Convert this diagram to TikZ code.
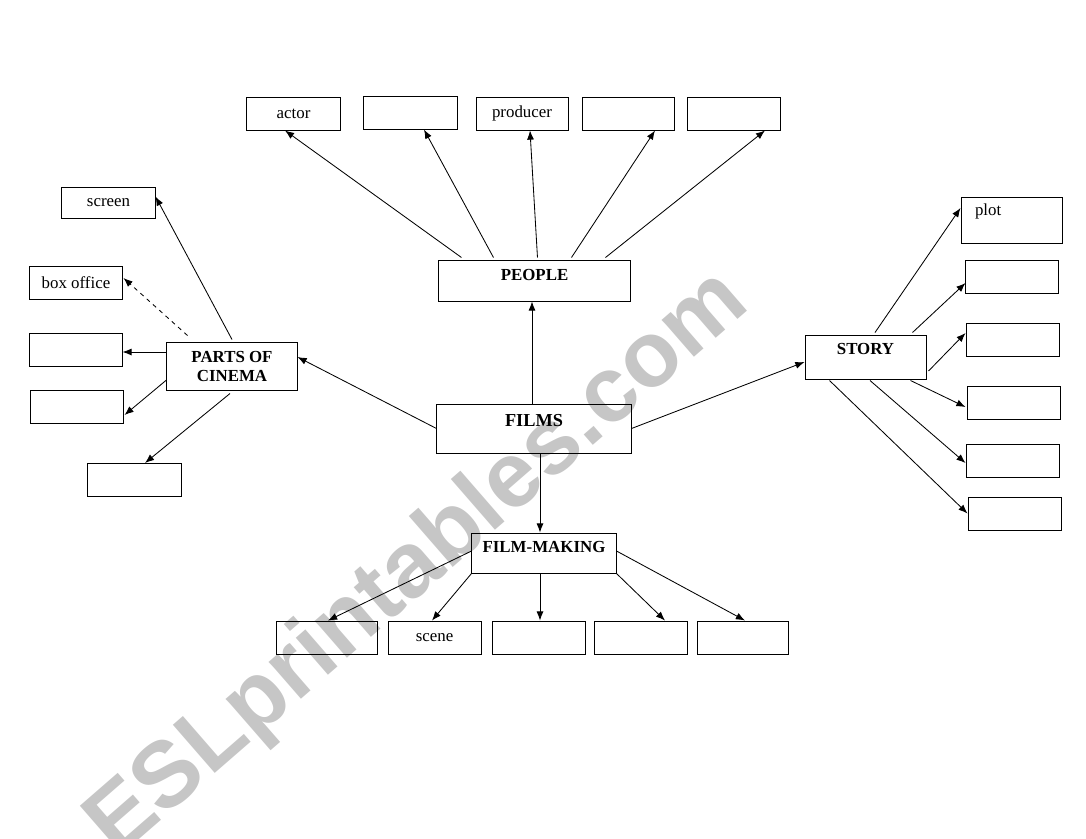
\documentclass[tikz,border=0pt]{standalone}
\usepackage{fontspec}
\setmainfont{Liberation Serif}
\newfontfamily\markfont{Liberation Sans}
\usepackage{tikz}
\usetikzlibrary{arrows.meta,calc}
\usepackage{xcolor}
\definecolor{markgray}{RGB}{198,198,198}

\tikzset{
	cell/.style={draw=black, line width=0.7pt, inner sep=0pt, minimum width=2.325cm, minimum height=0.825cm, font=\fontsize{12}{13.5}\selectfont},
	hub/.style={cell, font=\fontsize{12}{13.5}\selectfont\bfseries, text height=9pt, text depth=#1},
	hub/.default=0pt,
	arr/.style={line width=0.6pt, -{Latex[length=6.5pt,width=5pt]}},
	watermark/.style={text=markgray, font=\markfont\bfseries\fontsize{66}{66}\selectfont, inner sep=0pt}
}

\begin{document}
\begin{tikzpicture}[x=0.025cm, y=-0.025cm]
					\useasboundingbox (0,0) rectangle (1086,838);
					\node[watermark, anchor=base west, rotate=41] (mark) at (117,859) {ESLprintables.com};
					
					\node[hub=12.4pt, minimum width=4.85cm, minimum height=1.225cm, font=\fontsize{13}{15}\selectfont\bfseries] (films) at (534,428.5) {FILMS};
					\node[hub=9.5pt, minimum width=4.775cm, minimum height=1.025cm] (people) at (534.5,280.5) {PEOPLE};
					\node[cell, minimum width=3.25cm, minimum height=1.2cm, align=center, font=\fontsize{12}{13.5}\selectfont\bfseries] (parts) at (232,366) {PARTS OF\\CINEMA};
					\node[hub=12.4pt, minimum width=3.025cm, minimum height=1.1cm] (story) at (865.5,357) {STORY};
					\node[hub=9.5pt, minimum width=3.6cm, minimum height=1.0cm] (making) at (544,553) {FILM-MAKING};
					
					\node[cell] (actor) at (293.5,113.5) {actor};
					\node[cell] (p2) at (410.5,112.5) {};
					\node[cell, minimum width=2.3cm] (producer) at (522,113.5) {producer};
					\node[cell, minimum width=2.3cm] (p4) at (628,113.5) {};
					\node[cell] (p5) at (733.5,113.5) {};
					
					\node[cell, minimum height=0.775cm] (screen) at (108.5,202.5) {screen};
					\node[cell, minimum width=2.3cm] (boxoffice) at (76,283) {box office};
					\node[cell, minimum width=2.3cm] (l3) at (76,350) {};
					\node[cell, minimum width=2.3cm] (l4) at (77,407) {};
					\node[cell] (l5) at (134.5,480) {};
					
					\node[cell, minimum width=2.525cm, minimum height=1.15cm, text width=1.825cm, align=left, text height=9pt, text depth=15pt] (plot) at (1011.5,220) {plot};
					\node[cell] (r2) at (1011.5,277) {};
					\node[cell] (r3) at (1012.5,339.5) {};
					\node[cell] (r4) at (1013.5,403) {};
					\node[cell] (r5) at (1012.5,461) {};
					\node[cell] (r6) at (1014.5,513.5) {};
					
					\node[cell, minimum width=2.5cm] (b1) at (327,637.5) {};
					\node[cell] (b2) at (434.5,637.5) {scene};
					\node[cell] (b3) at (538.5,637.5) {};
					\node[cell] (b4) at (640.5,637.5) {};
					\node[cell, minimum width=2.275cm] (b5) at (742.5,637.5) {};
					
					\draw[arr] ($(films.north)+(-2,0)$) coordinate (fn) -- (fn |- people.south);
					\draw[arr] (films.west) -- ($(parts.east)+(0,-9)$);
					\draw[arr] (films.east) -- ($(story.west)+(0,5)$);
					\draw[arr] ($(films.south)+(6,0)$) coordinate (fs) -- (fs |- making.north);
					
					\foreach \s/\t/\e in {23/actor/-8.5, 55/p2/13.5, 99/producer/8, 133/p4/27, 167/p5/31.5}
						\draw[arr] ($(people.north west)+(\s,-2)$) -- ($(\t.south)+(\e,0)$);
					
					\draw[arr] ($(parts.north)+(0,-2)$) -- ($(screen.east)+(0,-6)$);
					\draw[arr, dashed] ($(parts.north west)+(21,-6)$) -- ($(boxoffice.east)+(1,-5)$);
					\draw[arr] ($(parts.west)+(0,-14)$) coordinate (pw) -- (pw -| l3.east);
					\draw[arr] ($(parts.west)+(0,14)$) -- ($(l4.east)+(1,8)$);
					\draw[arr] ($(parts.south)+(-2,3)$) -- ($(l5.north)+(10.5,0)$);
					
					\draw[arr] ($(story.north)+(9.5,-2)$) -- ($(plot.west)+(0,-12)$);
					\draw[arr] ($(story.north east)+(-14,-2)$) -- ($(r2.west)+(1,6)$);
					\draw[arr] ($(story.east)+(2,14)$) -- ($(r3.west)+(0,-6.5)$);
					\draw[arr] ($(story.south east)+(-16,1)$) -- ($(r4.west)+(-1,4)$);
					\draw[arr] ($(story.south)+(4.5,1)$) -- ($(r5.west)+(0,2)$);
					\draw[arr] ($(story.south west)+(25,1)$) -- (r6.west);
					
					\draw[arr] ($(making.west)+(0,-2)$) -- ($(b1.north)+(1,0)$);
					\draw[arr] (making.south west) -- ($(b2.north)+(-2.5,0)$);
					\draw[arr] ($(making.south)+(-4,0)$) coordinate (ms) -- (ms |- b3.north);
					\draw[arr] (making.south east) -- ($(b4.north)+(24.5,0)$);
					\draw[arr] ($(making.east)+(0,-2)$) -- ($(b5.north)+(2.5,0)$);
				\end{tikzpicture}
\end{document}
